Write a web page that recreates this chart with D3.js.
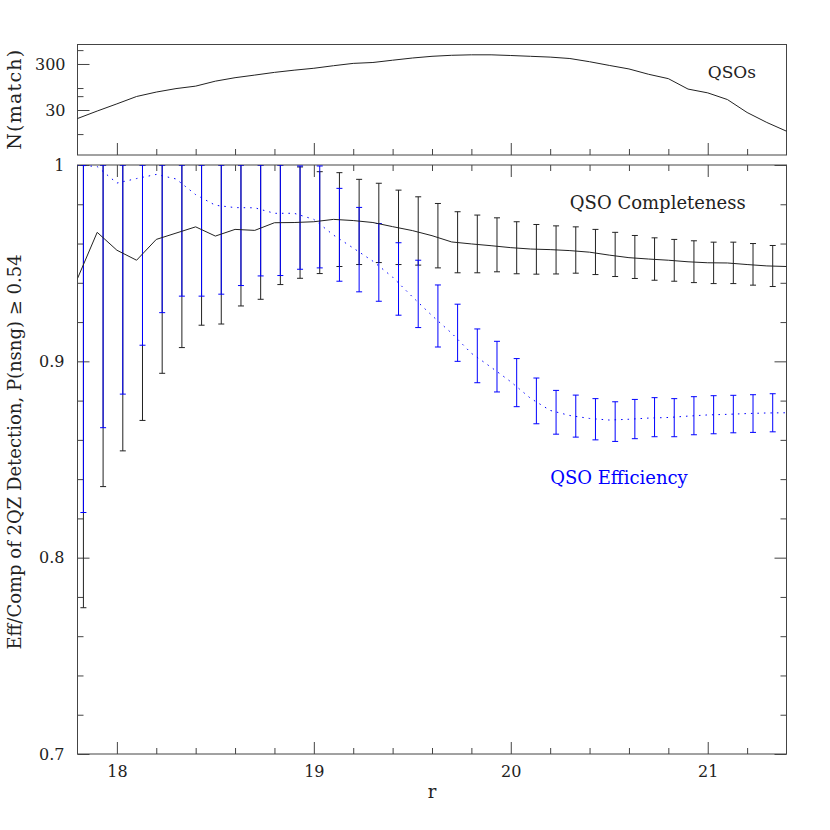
<!DOCTYPE html>
<html>
<head>
<meta charset="utf-8">
<script src="https://cdn.jsdelivr.net/npm/d3@7"></script>
<style>
  body { margin: 0; background: #fff; }
  text { font-family: "DejaVu Serif", serif; fill: #222; }
</style>
</head>
<body>
<div class="chart"></div>
<script>
// magnitude grid for the curves
const rGrid = [17.8, 17.9, 18.0, 18.1, 18.2, 18.3, 18.4, 18.5, 18.6, 18.7, 18.8, 18.9,
  19.0, 19.1, 19.2, 19.3, 19.4, 19.5, 19.6, 19.7, 19.8, 19.9, 20.0, 20.1, 20.2, 20.3,
  20.4, 20.5, 20.6, 20.7, 20.8, 20.9, 21.0, 21.1, 21.2, 21.3, 21.4]

const nMatch = [19.6, 28.5, 40.8, 59, 73.6, 87.5, 99, 127, 151, 172, 197, 220, 242, 275,
  309, 323, 362, 404, 440, 463, 474, 474, 458, 440, 423, 394, 336, 279, 234, 179, 144,
  85.5, 70.7, 50.6, 26.5, 16.1, 10.4]

const completeness = [0.9422, 0.9657, 0.9566, 0.9515, 0.9621, 0.9653, 0.9685, 0.9638,
  0.9672, 0.9667, 0.9706, 0.9707, 0.9711, 0.9723, 0.9717, 0.9707, 0.9686, 0.9666, 0.964,
  0.9608, 0.9598, 0.9589, 0.9579, 0.9572, 0.9569, 0.9564, 0.9556, 0.9541, 0.9528, 0.9521,
  0.9515, 0.9507, 0.9502, 0.9501, 0.9493, 0.9486, 0.9483]

const efficiency = [1.0, 0.9992, 0.9908, 0.9931, 0.9952, 0.9929, 0.9849, 0.9795, 0.9783,
  0.9782, 0.9754, 0.9754, 0.9723, 0.9643, 0.9577, 0.951, 0.9429, 0.9329, 0.9233, 0.9143,
  0.9041, 0.897, 0.8896, 0.8812, 0.875, 0.8724, 0.8709, 0.8701, 0.8705, 0.8711, 0.8714,
  0.8721, 0.8727, 0.873, 0.8734, 0.8737, 0.8738]

// error bar positions and ranges
const rErr = [17.83, 17.93, 18.03, 18.13, 18.23, 18.33, 18.43, 18.53, 18.63, 18.73, 18.83,
  18.93, 19.03, 19.13, 19.23, 19.33, 19.43, 19.53, 19.63, 19.73, 19.83, 19.93, 20.03,
  20.13, 20.23, 20.33, 20.43, 20.53, 20.63, 20.73, 20.83, 20.93, 21.03, 21.13, 21.23, 21.33]

const compHi = [1.0, 1.0, 1.0, 1.0, 1.0, 1.0, 1.0, 1.0, 1.0, 1.0, 1.0, 0.999, 0.9966, 0.9961,
  0.9927, 0.9907, 0.9872, 0.9838, 0.9804, 0.9762, 0.9745, 0.9731, 0.9711, 0.9697, 0.969,
  0.9685, 0.9672, 0.9657, 0.9641, 0.9629, 0.9621, 0.9614, 0.9607, 0.9607, 0.96, 0.959]
const compLo = [0.7745, 0.8362, 0.8544, 0.8699, 0.8939, 0.907, 0.9184, 0.919, 0.9282, 0.9316,
  0.9391, 0.9423, 0.9447, 0.9483, 0.9493, 0.9503, 0.9493, 0.949, 0.9476, 0.9451, 0.9451,
  0.9456, 0.9446, 0.9444, 0.9445, 0.9449, 0.9442, 0.9432, 0.9422, 0.9413, 0.9408, 0.9401,
  0.9396, 0.9396, 0.9388, 0.9381]

const effHi = [1.0, 1.0, 1.0, 1.0, 1.0, 1.0, 1.0, 1.0, 1.0, 1.0, 1.0, 0.9995, 0.9995, 0.9881,
  0.9784, 0.9702, 0.9604, 0.9515, 0.9389, 0.9291, 0.9165, 0.9102, 0.9014, 0.8915, 0.8852,
  0.8828, 0.881, 0.8794, 0.8806, 0.8815, 0.881, 0.882, 0.8825, 0.8827, 0.883, 0.8835]
const effLo = [0.823, 0.8662, 0.8833, 0.9082, 0.9248, 0.9332, 0.9332, 0.9342, 0.9386, 0.9435,
  0.9437, 0.9469, 0.9476, 0.9408, 0.9354, 0.9306, 0.9235, 0.9172, 0.9073, 0.9, 0.8891,
  0.8844, 0.8769, 0.8682, 0.8629, 0.8614, 0.86, 0.8592, 0.8606, 0.8616, 0.8616, 0.8626,
  0.8631, 0.8636, 0.8638, 0.8641]

// ticks
const xMajor = [18, 19, 20, 21]
const xMinor = [18.2, 18.4, 18.6, 18.8, 19.2, 19.4, 19.6, 19.8, 20.2, 20.4, 20.6, 20.8, 21.2]
const nMajor = [30, 300]
const nMinor = [9, 60, 90, 600]
const vMajor = [0.7, 0.8, 0.9, 1]
const vMinor = [0.72, 0.74, 0.76, 0.78, 0.82, 0.84, 0.86, 0.88, 0.92, 0.94, 0.96, 0.98]

const width = 830
const height = 830
const left = 77.5, right = 786.5
const top1 = 44.5, bot1 = 155
const top2 = 165, bot2 = 754
const ink = "#222"
const frame = "#444"

const $svg = d3.select(".chart").append("svg")
  .attr("width", width).attr("height", height)

const x = d3.scaleLinear().domain([17.8, 21.4]).range([left, right])
const yN = d3.scaleLog().domain([Math.pow(10, 0.5), Math.pow(10, 2.9)]).range([bot1, top1])
const yV = d3.scaleLinear().domain([0.7, 1]).range([bot2, top2])

function ticks(g, axis) {
  g.call(axis)
  g.select(".domain").remove()
  g.selectAll(".tick line").attr("stroke", frame)
  g.selectAll("text").style("font-family", "DejaVu Serif").attr("fill", ink)
}

// ---- top panel ----
const $top = $svg.append("g")

$top.append("g").attr("transform", `translate(0,${bot1})`)
  .call(ticks, d3.axisBottom(x).tickValues(xMajor).tickSizeInner(-12).tickSizeOuter(0).tickFormat(""))
$top.append("g").attr("transform", `translate(0,${bot1})`)
  .call(ticks, d3.axisBottom(x).tickValues(xMinor).tickSizeInner(-6).tickSizeOuter(0).tickFormat(""))
$top.append("g").attr("transform", `translate(${left},0)`)
  .call(ticks, d3.axisLeft(yN).tickValues(nMajor).tickSizeInner(-12).tickSizeOuter(0)
    .tickPadding(12).tickFormat(d3.format("d")))
  .attr("font-size", 16)
$top.append("g").attr("transform", `translate(${left},0)`)
  .call(ticks, d3.axisLeft(yN).tickValues(nMinor).tickSizeInner(-6).tickSizeOuter(0).tickFormat(""))

$top.append("rect")
  .attr("x", left).attr("y", top1)
  .attr("width", right - left).attr("height", bot1 - top1)
  .attr("fill", "none").attr("stroke", frame)

$top.append("path")
  .datum(rGrid.map((r, i) => [r, nMatch[i]]))
  .attr("fill", "none").attr("stroke", ink).attr("stroke-width", 1)
  .attr("d", d3.line().x(d => x(d[0])).y(d => yN(d[1])))

$top.append("text")
  .attr("x", x(21.0)).attr("y", yN(148))
  .attr("font-size", 17)
  .text("QSOs")

$top.append("text")
  .attr("transform", `translate(20.5,${(top1 + bot1) / 2}) rotate(-90)`)
  .attr("text-anchor", "middle").attr("font-size", 19)
  .attr("textLength", 100).attr("lengthAdjust", "spacing")
  .text("N(match)")

// ---- bottom panel ----
const $bot = $svg.append("g")

$bot.append("defs").append("clipPath").attr("id", "clip")
  .append("rect").attr("x", left).attr("y", top2)
  .attr("width", right - left).attr("height", bot2 - top2)

$bot.append("g").attr("transform", `translate(0,${bot2})`)
  .call(ticks, d3.axisBottom(x).tickValues(xMajor).tickSizeInner(-12).tickSizeOuter(0)
    .tickPadding(12).tickFormat(d3.format("d")))
  .attr("font-size", 16)
$bot.append("g").attr("transform", `translate(0,${bot2})`)
  .call(ticks, d3.axisBottom(x).tickValues(xMinor).tickSizeInner(-6).tickSizeOuter(0).tickFormat(""))
$bot.append("g").attr("transform", `translate(0,${top2})`)
  .call(ticks, d3.axisTop(x).tickValues(xMajor).tickSizeInner(-12).tickSizeOuter(0).tickFormat(""))
$bot.append("g").attr("transform", `translate(0,${top2})`)
  .call(ticks, d3.axisTop(x).tickValues(xMinor).tickSizeInner(-6).tickSizeOuter(0).tickFormat(""))

$bot.append("g").attr("transform", `translate(${left},0)`)
  .call(ticks, d3.axisLeft(yV).tickValues(vMajor).tickSizeInner(-12).tickSizeOuter(0)
    .tickPadding(13).tickFormat(d => d === 1 ? "1" : d3.format(".1f")(d)))
  .attr("font-size", 16)
$bot.append("g").attr("transform", `translate(${left},0)`)
  .call(ticks, d3.axisLeft(yV).tickValues(vMinor).tickSizeInner(-6).tickSizeOuter(0).tickFormat(""))
$bot.append("g").attr("transform", `translate(${right},0)`)
  .call(ticks, d3.axisRight(yV).tickValues(vMajor).tickSizeInner(-12).tickSizeOuter(0).tickFormat(""))
$bot.append("g").attr("transform", `translate(${right},0)`)
  .call(ticks, d3.axisRight(yV).tickValues(vMinor).tickSizeInner(-6).tickSizeOuter(0).tickFormat(""))

$bot.append("rect")
  .attr("x", left).attr("y", top2)
  .attr("width", right - left).attr("height", bot2 - top2)
  .attr("fill", "none").attr("stroke", frame)

const $data = $bot.append("g").attr("clip-path", "url(#clip)")

function errorBars(lo, hi, color) {
  const bars = rErr.map((r, i) => ({ r, lo: lo[i], hi: hi[i] }))
  const g = $data.append("g").attr("stroke", color).attr("stroke-width", 1).attr("fill", "none")
  g.selectAll("path").data(bars).enter().append("path")
    .attr("d", d => {
      const cx = x(d.r), y0 = yV(d.lo), y1 = yV(d.hi)
      return `M${cx},${y0}V${y1}M${cx - 3},${y0}H${cx + 3}M${cx - 3},${y1}H${cx + 3}`
    })
}

errorBars(compLo, compHi, ink)
errorBars(effLo, effHi, "#0000ff")

const line = d3.line().x(d => x(d[0])).y(d => yV(d[1]))

$data.append("path")
  .datum(rGrid.map((r, i) => [r, completeness[i]]))
  .attr("fill", "none").attr("stroke", ink).attr("stroke-width", 1)
  .attr("d", line)

$data.append("path")
  .datum(rGrid.map((r, i) => [r, efficiency[i]]))
  .attr("fill", "none").attr("stroke", "#0000ff").attr("stroke-width", 1)
  .attr("stroke-dasharray", "1.5,5")
  .attr("d", line)

$bot.append("text")
  .attr("x", x(20.3)).attr("y", yV(0.9774))
  .attr("font-size", 18)
  .text("QSO Completeness")

$bot.append("text")
  .attr("x", x(20.2)).attr("y", yV(0.8376))
  .attr("font-size", 18)
  .style("fill", "#0000ff")
  .text("QSO Efficiency")

$bot.append("text")
  .attr("transform", "translate(20.5,452) rotate(-90)")
  .attr("text-anchor", "middle").attr("font-size", 18)
  .text("Eff/Comp of 2QZ Detection, P(nsng) \u2265 0.54")

$svg.append("text")
  .attr("x", (left + right) / 2).attr("y", 798)
  .attr("text-anchor", "middle").attr("font-size", 18)
  .text("r")
</script>
</body>
</html>
